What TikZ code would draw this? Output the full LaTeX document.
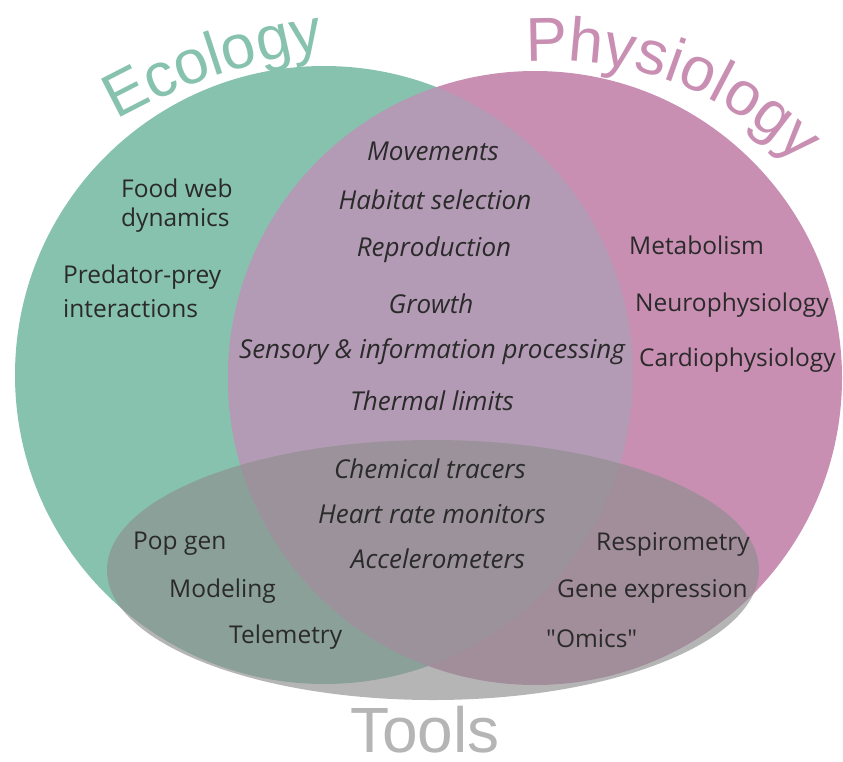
\documentclass[tikz,border=0pt]{standalone}
\usepackage{fontspec}
\setmainfont{Open Sans}
\newfontfamily\titlefont{Liberation Sans}
\usetikzlibrary{decorations.text}
\definecolor{ecol}{HTML}{86C2AE}
\definecolor{phys}{HTML}{C98FB3}
\definecolor{both}{HTML}{B49BB5}
\definecolor{tool}{HTML}{8E8E8E}
\definecolor{toolt}{HTML}{B5B5B5}
\definecolor{ink}{HTML}{2A2A2A}
\begin{document}
\begin{tikzpicture}[x=1pt, y=1pt,
        lbl/.style  = {text=ink, font=\fontsize{24.5}{24.5}\selectfont, inner sep=0pt},
        lbll/.style = {lbl, anchor=west},
        ital/.style = {lbl, font=\fontsize{26}{26}\selectfont\itshape}
    ]
    \useasboundingbox (0,0) rectangle (843,-761);

    %Kreise
    \fill[ecol] (324,-375) circle (309);
    \fill[phys] (535,-378) circle (307);
    \begin{scope}
        \clip (324,-375) circle (309);
        \fill[both] (535,-378) circle (307);
    \end{scope}

    %Ellipse
    \fill[tool, opacity=0.65] (433,-570) ellipse [x radius=326, y radius=130];

    %Titel
    \path[decorate, decoration={text along path, text align=center,
        text={|\titlefont\fontsize{62}{62}\selectfont\color{ecol}|Ecology}}]
        (405,-637) ++(129:592) arc[start angle=129, end angle=88, radius=592];
    \path[decorate, decoration={text along path, text align=center,
        text={|\titlefont\fontsize{62}{62}\selectfont\color{phys}|Physiology}}]
        (554,-402) ++(107:341) arc[start angle=107, end angle=32, radius=341];
    \node (tools) at (425,-752)[anchor=base, text=toolt, font=\titlefont\fontsize{64}{64}\selectfont, inner sep=0pt]{Tools};

    %Ecology
    \node (food) at (121,-188)[lbll]{Food web};
    \node (dyn) at (121,-220)[lbll]{dynamics};
    \node (pred) at (63,-277)[lbll]{Predator-prey};
    \node (inter) at (63,-309)[lbll]{interactions};

    %Schnittmenge
    \node (mov) at (433,-151)[ital]{Movements};
    \node (hab) at (435,-200)[ital]{Habitat selection};
    \node (repr) at (434,-250)[ital]{Reproduction};
    \node (grow) at (431,-304)[ital]{Growth};
    \node (sens) at (432,-352)[ital]{Sensory \& information processing};
    \node (therm) at (432,-401)[ital]{Thermal limits};

    %Physiology
    \node (meta) at (629,-245)[lbll]{Metabolism};
    \node (neuro) at (635,-305)[lbll]{Neurophysiology};
    \node (cardio) at (639,-360)[lbll]{Cardiophysiology};

    %Tools
    \node (chem) at (430,-469)[ital]{Chemical tracers};
    \node (heart) at (432,-514)[ital]{Heart rate monitors};
    \node (acc) at (438,-559)[ital]{Accelerometers};
    \node (pop) at (133,-544)[lbll]{Pop gen};
    \node (model) at (169,-591)[lbll]{Modeling};
    \node (tele) at (229,-637)[lbll]{Telemetry};
    \node (resp) at (596,-544)[lbll]{Respirometry};
    \node (gene) at (557,-591)[lbll]{Gene expression};
    \node (omics) at (546,-639)[lbll]{\textquotedbl Omics\textquotedbl};
\end{tikzpicture}
\end{document}
